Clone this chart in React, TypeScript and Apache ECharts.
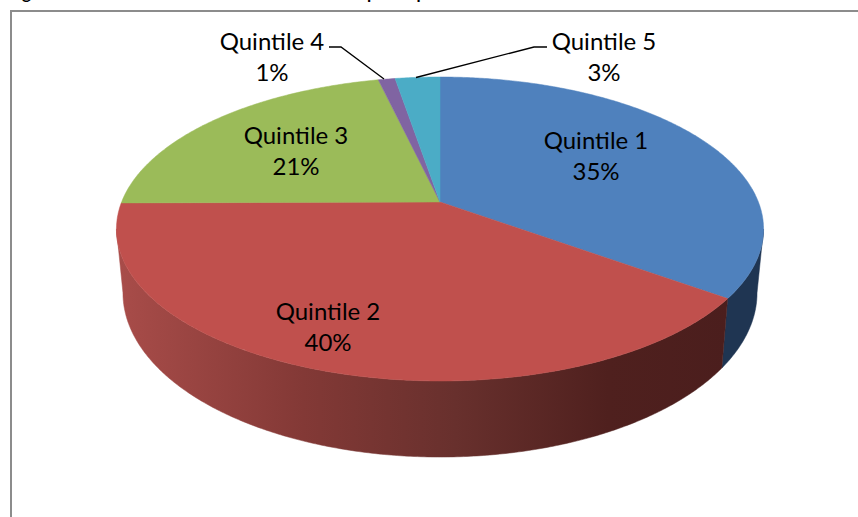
import React, { useEffect, useRef } from "react";
import * as echarts from "echarts";

const categories = ["Quintile 1", "Quintile 2", "Quintile 3", "Quintile 4", "Quintile 5"];
const shares = [35.0, 39.9, 21.45, 1.0, 2.65];
const colors = ["#4F81BD", "#C0504D", "#9BBB59", "#8064A2", "#4BACC6"];

const FONT = "Lato, 'Open Sans', sans-serif";
const total = shares.reduce((a, b) => a + b, 0);

// perspective disc: top face and bottom rim
const TOP = { cx: 440, ay: 202, R: 318.4, S: 147.2, k: 0.1776 };
const LOW = { cx: 440, ay: 263.7, R: 312, S: 159, k: 0.1776 };
const WALL_FROM = 100.2;
const WALL_TO = 259.8;

const project = (g: typeof TOP, deg: number): [number, number] => {
  const t = (deg * Math.PI) / 180;
  const u = Math.sin(t);
  const v = Math.cos(t);
  const w = 1 + g.k * v;
  return [g.cx + (g.R * u) / w, g.ay - (g.S * v) / w];
};

const arc = (g: typeof TOP, a: number, b: number): [number, number][] => {
  const n = Math.max(2, Math.ceil(Math.abs(b - a) * 2));
  const out: [number, number][] = [];
  for (let i = 0; i <= n; i++) out.push(project(g, a + ((b - a) * i) / n));
  return out;
};

const startDeg = (i: number) =>
  (shares.slice(0, i).reduce((a, b) => a + b, 0) / total) * 360;

const wallFill = (i: number) =>
  i === 0
    ? "#1F3552"
    : new echarts.graphic.LinearGradient(
        120, 0, 730, 0,
        [
          { offset: 0, color: "#A84C49" },
          { offset: 0.3, color: "#833936" },
          { offset: 0.55, color: "#68302D" },
          { offset: 0.8, color: "#4F201E" },
          { offset: 1, color: "#4B1E1D" },
        ],
        true
      );

const labelPos: [number, number][] = [
  [596, 155],
  [328, 326],
  [296, 150],
  [272, 56],
  [604, 56],
];

const leaders: [number, number][][] = [
  [],
  [],
  [],
  [[329, 47], [341, 47], [384, 79]],
  [[416, 77.5], [534, 47], [547, 47]],
];

export default function App() {
  const ref = useRef<HTMLDivElement>(null);
  useEffect(() => {
    const chart = echarts.init(ref.current!, undefined, { renderer: "svg" });
    const data = shares.map((v, i) => ({ value: v, name: categories[i] }));
    chart.setOption({
      animation: false,
      backgroundColor: "#ffffff",
      graphic: [
        { type: "rect", shape: { x: 11, y: 11, width: 900, height: 600 }, style: { fill: "#ffffff", stroke: "#8C8C8C", lineWidth: 2 }, z: 0 },
        { type: "text", x: 8, y: -16, style: { text: "Figure", font: "bold 17px " + FONT, fill: "#000" }, z: 1 },
        { type: "text", x: 351, y: -16, style: { text: "top", font: "bold 17px " + FONT, fill: "#000" }, z: 1 },
        { type: "text", x: 411, y: -16, style: { text: "quintile", font: "bold 17px " + FONT, fill: "#000" }, z: 1 },
      ],
      series: [
        {
          type: "custom",
          coordinateSystem: "none",
          silent: true,
          z: 2,
          data,
          renderItem: (p: any, api: any) => {
            const i = p.dataIndex;
            const a = Math.max(startDeg(i), WALL_FROM);
            const b = Math.min(startDeg(i) + (api.value(0) / total) * 360, WALL_TO);
            if (b <= a) return { type: "group", children: [] };
            const pts = [...arc(TOP, a, b), ...arc(LOW, b, a)];
            const fill = wallFill(i);
            return { type: "polygon", shape: { points: pts }, style: { fill, stroke: fill, lineWidth: 0.5 } };
          },
        },
        {
          type: "custom",
          coordinateSystem: "none",
          silent: true,
          z: 3,
          data,
          renderItem: (p: any, api: any) => {
            const i = p.dataIndex;
            const a = startDeg(i);
            const b = a + (api.value(0) / total) * 360;
            const pts = [[TOP.cx, TOP.ay], ...arc(TOP, a, b)];
            return { type: "polygon", shape: { points: pts }, style: { fill: colors[i], stroke: colors[i], lineWidth: 0.5 } };
          },
        },
        {
          type: "custom",
          coordinateSystem: "none",
          silent: true,
          z: 4,
          data,
          renderItem: (p: any, api: any) => {
            const i = p.dataIndex;
            const [x, y] = labelPos[i];
            const children: any[] = [
              {
                type: "text",
                x,
                y,
                style: {
                  text: `${categories[i]}\n${Math.round(api.value(0))}%`,
                  fontFamily: FONT,
                  fontSize: 24,
                  lineHeight: 31,
                  fill: "#000000",
                  align: "center",
                  verticalAlign: "middle",
                },
              },
            ];
            if (leaders[i].length) {
              children.push({
                type: "polyline",
                shape: { points: leaders[i] },
                style: { stroke: "#000000", lineWidth: 1.3, fill: "none" },
              });
            }
            return { type: "group", children };
          },
        },
      ],
    });
    return () => chart.dispose();
  }, []);
  return <div ref={ref} style={{ position: "fixed", left: 0, top: 0, width: 858, height: 517 }} />;
}
